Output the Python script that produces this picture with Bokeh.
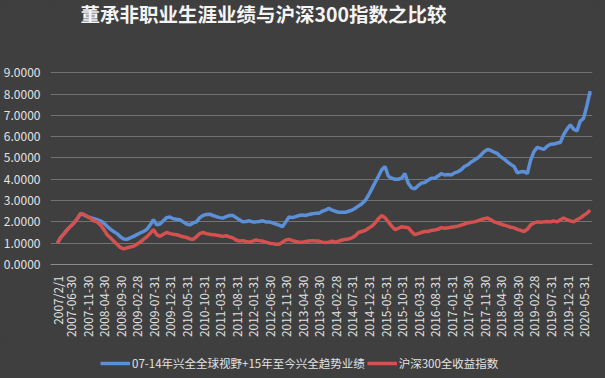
from bokeh.plotting import figure
from bokeh.layouts import column
from bokeh.models import Legend, LegendItem, Label, FixedTicker, Range1d, NumeralTickFormatter, ColumnDataSource
from bokeh.embed import file_html
from bokeh.resources import INLINE

title_text = "董承非职业生涯业绩与沪深300指数之比较"
series_blue_name = "07-14年兴全全球视野+15年至今兴全趋势业绩"
series_red_name = "沪深300全收益指数"

# month index since 2007-02
tick_months = [0, 4, 9, 14, 19, 24, 29, 34, 39, 44, 49, 54, 59, 64, 69, 74, 79, 84, 89, 94,
               99, 104, 109, 114, 119, 124, 129, 134, 139, 144, 149, 154, 159]
tick_labels = ["2007/2/1", "2007-06-30", "2007-11-30", "2008-04-30", "2008-09-30", "2009-02-28",
               "2009-07-31", "2009-12-31", "2010-05-31", "2010-10-31", "2011-03-31", "2011-08-31",
               "2012-01-31", "2012-06-30", "2012-11-30", "2013-04-30", "2013-09-30", "2014-02-28",
               "2014-07-31", "2014-12-31", "2015-05-31", "2015-10-31", "2016-03-31", "2016-08-31",
               "2017-01-31", "2017-06-30", "2017-11-30", "2018-04-30", "2018-09-30", "2019-02-28",
               "2019-07-31", "2019-12-31", "2020-05-31"]
y_ticks = [0, 1, 2, 3, 4, 5, 6, 7, 8, 9]

blue = [1.0, 1.27, 1.45, 1.64, 1.8, 1.95, 2.15, 2.38, 2.33, 2.25, 2.2, 2.15, 2.1, 2.05, 1.95, 1.8,
        1.65, 1.55, 1.45, 1.3, 1.2, 1.18, 1.25, 1.32, 1.4, 1.48, 1.55, 1.64, 1.85, 2.1, 1.86, 1.9,
        2.05, 2.2, 2.23, 2.15, 2.12, 2.1, 2.0, 1.9, 1.86, 1.95, 2.0, 2.2, 2.3, 2.35, 2.36, 2.3,
        2.25, 2.2, 2.18, 2.25, 2.3, 2.3, 2.2, 2.1, 2.0, 2.02, 2.05, 2.0, 2.0, 2.02, 2.05, 2.0,
        2.0, 1.95, 1.9, 1.85, 1.77, 2.0, 2.23, 2.2, 2.25, 2.3, 2.32, 2.3, 2.35, 2.38, 2.4, 2.4,
        2.5, 2.55, 2.64, 2.55, 2.5, 2.45, 2.45, 2.45, 2.5, 2.55, 2.64, 2.75, 2.85, 3.0, 3.25, 3.55,
        3.85, 4.14, 4.45, 4.6, 4.14, 4.05, 4.0, 4.0, 4.05, 4.27, 3.82, 3.6, 3.55, 3.7, 3.82, 3.85,
        3.95, 4.05, 4.05, 4.15, 4.27, 4.2, 4.22, 4.2, 4.3, 4.35, 4.45, 4.6, 4.68, 4.8, 4.9, 5.0,
        5.14, 5.3, 5.4, 5.35, 5.27, 5.2, 5.05, 4.95, 4.82, 4.7, 4.6, 4.3, 4.35, 4.36, 4.27, 4.9,
        5.3, 5.5, 5.45, 5.4, 5.55, 5.64, 5.65, 5.7, 5.73, 6.1, 6.35, 6.55, 6.35, 6.27, 6.73, 6.86,
        7.45, 8.14]

red = [1.0, 1.27, 1.45, 1.64, 1.8, 1.95, 2.15, 2.4, 2.35, 2.25, 2.17, 2.05, 2.0, 1.86, 1.65, 1.4,
       1.25, 1.1, 0.95, 0.8, 0.73, 0.78, 0.82, 0.86, 0.95, 1.05, 1.18, 1.3, 1.45, 1.64, 1.4, 1.32,
       1.42, 1.5, 1.45, 1.42, 1.4, 1.35, 1.3, 1.27, 1.2, 1.18, 1.3, 1.45, 1.5, 1.45, 1.42, 1.4,
       1.38, 1.35, 1.32, 1.35, 1.3, 1.25, 1.15, 1.1, 1.12, 1.08, 1.05, 1.1, 1.15, 1.12, 1.1, 1.05,
       1.0, 0.98, 0.95, 0.95, 1.05, 1.15, 1.18, 1.12, 1.08, 1.05, 1.05, 1.08, 1.1, 1.12, 1.1, 1.1,
       1.05, 1.03, 1.05, 1.1, 1.05, 1.1, 1.15, 1.18, 1.2, 1.25, 1.35, 1.5, 1.55, 1.6, 1.7, 1.8,
       1.95, 2.15, 2.3, 2.2, 2.0, 1.8, 1.64, 1.7, 1.77, 1.75, 1.73, 1.55, 1.4, 1.45, 1.5, 1.55,
       1.55, 1.6, 1.62, 1.65, 1.73, 1.7, 1.72, 1.75, 1.77, 1.8, 1.85, 1.9, 1.95, 1.98, 2.0, 2.05,
       2.1, 2.15, 2.18, 2.1, 2.0, 1.95, 1.9, 1.85, 1.8, 1.75, 1.72, 1.65, 1.6, 1.55, 1.65, 1.86,
       1.95, 2.0, 1.98, 2.0, 2.02, 2.0, 2.05, 2.0, 2.1, 2.18, 2.1, 2.05, 2.0, 2.1, 2.18, 2.3,
       2.4, 2.55]

months = list(range(len(blue)))

BG = "#3f3f3f"
TXT = "#e2e2e2"
CJK = "Noto Sans CJK SC"
BLUE = "#5b8fd8"
RED = "#d4514f"

# main chart: frame reaches the top so that the title sits inside it
p = figure(width=605, height=340, output_backend="svg", toolbar_location=None,
           x_range=Range1d(-2.1, 161.7), y_range=Range1d(0, 12.39),
           min_border_left=48, min_border_right=13, min_border_top=0, min_border_bottom=69)
p.background_fill_color = BG
p.border_fill_color = BG
p.outline_line_color = None

src = ColumnDataSource(dict(m=months, blue=blue, red=red))
p.line("m", "blue", source=src, line_color=BLUE, line_width=3.5)
p.line("m", "red", source=src, line_color=RED, line_width=3.5)

p.xaxis.ticker = FixedTicker(ticks=tick_months)
p.xaxis.major_label_overrides = {m: l for m, l in zip(tick_months, tick_labels)}
p.xaxis.major_label_orientation = 1.5708
p.xaxis.major_label_text_font_size = "12px"
p.xaxis.major_label_text_color = TXT
p.xaxis.major_label_text_font = CJK
p.xaxis.axis_line_color = "#8c8c8c"
p.xaxis.major_tick_line_color = None
p.xaxis.minor_tick_line_color = None
p.xaxis.major_label_standoff = 5

p.yaxis.ticker = FixedTicker(ticks=y_ticks)
p.yaxis.formatter = NumeralTickFormatter(format="0.0000")
p.yaxis.major_label_text_font_size = "12px"
p.yaxis.major_label_text_color = TXT
p.yaxis.major_label_text_font = CJK
p.yaxis.axis_line_color = None
p.yaxis.major_tick_line_color = None
p.yaxis.minor_tick_line_color = None
p.yaxis.major_label_standoff = 4

p.xgrid.grid_line_color = None
p.ygrid.grid_line_color = "#8a8a8a"
p.ygrid.grid_line_alpha = 0.7
p.ygrid.grid_line_width = 1

title = Label(x=30, y=251, x_units="screen", y_units="screen", text=title_text,
              text_align="left", text_baseline="middle", text_color="#f4f4f4",
              text_font=CJK, text_font_size="19.5px", text_font_style="bold")
p.add_layout(title)

# legend strip below the chart
q = figure(width=605, height=38, output_backend="svg", toolbar_location=None,
           x_range=Range1d(0, 1), y_range=Range1d(0, 1), x_axis_type=None, y_axis_type=None,
           min_border_left=48, min_border_right=13, min_border_top=0, min_border_bottom=0)
q.background_fill_color = BG
q.border_fill_color = BG
q.outline_line_color = None
# legend proxies kept outside the visible range
lb = q.line([0, 1], [5, 5], line_color=BLUE, line_width=3.5)
lr = q.line([0, 1], [5, 5], line_color=RED, line_width=3.5)

legend = Legend(items=[LegendItem(label=series_blue_name, renderers=[lb]),
                       LegendItem(label=series_red_name, renderers=[lr])],
                location=(50, 5), orientation="horizontal",
                background_fill_alpha=0, border_line_color=None,
                label_text_color=TXT, label_text_font=CJK, label_text_font_size="11.5px",
                glyph_width=30, padding=0, margin=0, spacing=2, label_standoff=2)
q.add_layout(legend, "center")

layout = column(p, q, spacing=0, styles={"background-color": BG})
open("out.html", "w").write(file_html(layout, INLINE))
